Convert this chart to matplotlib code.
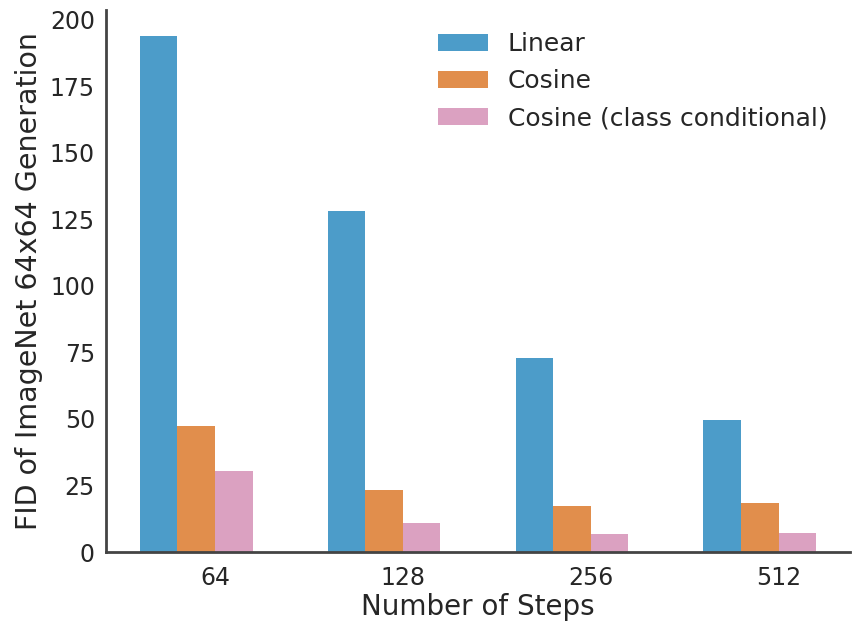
import matplotlib
matplotlib.use("Agg")
import matplotlib.pyplot as plt
import numpy as np

# data
steps = ["64", "128", "256", "512"]
linear = [194, 128.3, 72.8, 49.8]
cosine = [47.2, 23.4, 17.4, 18.5]
cosine_cc = [30.6, 10.9, 6.8, 7.2]

plt.rcParams["font.family"] = "DejaVu Sans"
text_color = "#262626"

fig = plt.figure(figsize=(8.52, 6.21), dpi=100)
ax = fig.add_axes([0.1244, 0.111, 0.8733, 0.873])

x = np.arange(len(steps))
w = 0.2
ax.bar(x - w, linear, w, color="#0072B2", alpha=0.7, label="Linear")
ax.bar(x, cosine, w, color="#D55E00", alpha=0.7, label="Cosine")
ax.bar(x + w, cosine_cc, w, color="#CC79A7", alpha=0.7, label="Cosine (class conditional)")

ax.set_xticks(x + w / 2)
ax.set_xticklabels(steps)
ax.set_yticks(np.arange(0, 201, 25))
ax.tick_params(labelsize=17, colors=text_color, length=0)
ax.tick_params(axis="y", pad=8)
ax.tick_params(axis="x", pad=10)
ax.set_xlabel("Number of Steps", fontsize=20, color=text_color, labelpad=2)
ax.set_ylabel("FID of ImageNet 64x64 Generation", fontsize=20.5, color=text_color, labelpad=5)

for s in ["top", "right"]:
    ax.spines[s].set_visible(False)
for s in ["left", "bottom"]:
    ax.spines[s].set_color("#444444")
    ax.spines[s].set_linewidth(2)

leg = ax.legend(loc="upper right", bbox_to_anchor=(1.0, 1.0), frameon=False,
                fontsize=18, handlelength=2.0, handleheight=0.7, labelspacing=0.52,
                handletextpad=0.8)
for t in leg.get_texts():
    t.set_color(text_color)

fig.savefig("out.png", dpi=100)
